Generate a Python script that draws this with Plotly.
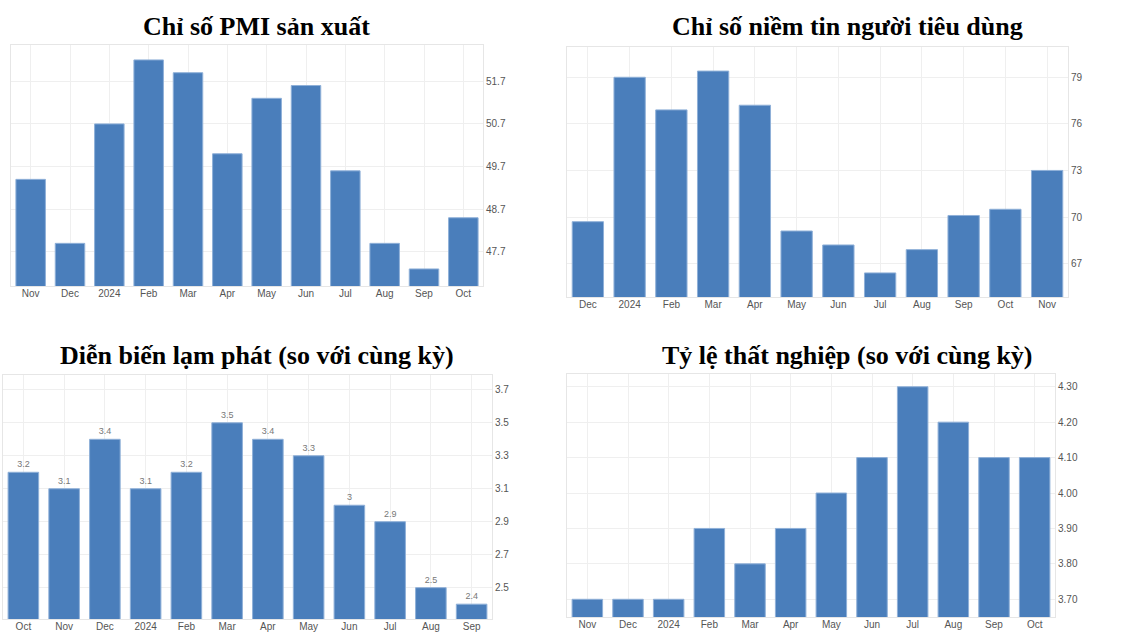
import plotly.graph_objects as go

# ---- data ----
pmi_months = ["Nov", "Dec", "2024", "Feb", "Mar", "Apr", "May", "Jun", "Jul", "Aug", "Sep", "Oct"]
pmi_values = [49.4, 47.9, 50.7, 52.2, 51.9, 50.0, 51.3, 51.6, 49.6, 47.9, 47.3, 48.5]
pmi_ticks = [47.7, 48.7, 49.7, 50.7, 51.7]

cc_months = ["Dec", "2024", "Feb", "Mar", "Apr", "May", "Jun", "Jul", "Aug", "Sep", "Oct", "Nov"]
cc_values = [69.7, 79.0, 76.9, 79.4, 77.2, 69.1, 68.2, 66.4, 67.9, 70.1, 70.5, 73.0]
cc_ticks = [67, 70, 73, 76, 79]

cpi_months = ["Oct", "Nov", "Dec", "2024", "Feb", "Mar", "Apr", "May", "Jun", "Jul", "Aug", "Sep"]
cpi_values = [3.2, 3.1, 3.4, 3.1, 3.2, 3.5, 3.4, 3.3, 3.0, 2.9, 2.5, 2.4]
cpi_ticks = [2.5, 2.7, 2.9, 3.1, 3.3, 3.5, 3.7]

unemp_months = ["Nov", "Dec", "2024", "Feb", "Mar", "Apr", "May", "Jun", "Jul", "Aug", "Sep", "Oct"]
unemp_values = [3.7, 3.7, 3.7, 3.9, 3.8, 3.9, 4.0, 4.1, 4.3, 4.2, 4.1, 4.1]
unemp_ticks = [3.7, 3.8, 3.9, 4.0, 4.1, 4.2, 4.3]

titles = ["Chỉ số PMI sản xuất", "Chỉ số niềm tin người tiêu dùng",
          "Diễn biến lạm phát (so với cùng kỳ)", "Tỷ lệ thất nghiệp (so với cùng kỳ)"]

W, H = 1125, 633
BAR = "#4a7ebb"
EDGE = "#8fb0d8"
GRID = "#efefef"
TICKFONT = dict(family="Liberation Sans, Arial", size=10, color="#555555")

def px_dom(a, b, total):
    return [a / total, b / total]

def py_dom(top, bottom):
    return [1 - bottom / H, 1 - top / H]

panels = [
    dict(months=pmi_months, vals=pmi_values, ticks=pmi_ticks, fmt=".1f",
         x=(11, 483), y=(45, 286), rng=[46.9, 52.55], text=False),
    dict(months=cc_months, vals=cc_values, ticks=cc_ticks, fmt="d",
         x=(567, 1068), y=(47, 297), rng=[64.85, 80.95], text=False),
    dict(months=cpi_months, vals=cpi_values, ticks=cpi_ticks, fmt=".1f",
         x=(3, 492), y=(375, 619), rng=[2.31, 3.79], text=True),
    dict(months=unemp_months, vals=unemp_values, ticks=unemp_ticks, fmt=".2f",
         x=(567, 1055), y=(374, 617), rng=[3.65, 4.336], text=False),
]

fig = go.Figure()
layout = dict(
    width=W, height=H, margin=dict(l=0, r=0, t=0, b=0),
    paper_bgcolor="white", plot_bgcolor="white", showlegend=False,
    bargap=0.25, annotations=[], shapes=[],
)

for i, p in enumerate(panels):
    n = i + 1
    xa = "x" if n == 1 else f"x{n}"
    ya = "y" if n == 1 else f"y{n}"
    tr = dict(
        x=p["months"], y=p["vals"], xaxis=xa, yaxis=ya,
        marker=dict(color=BAR, line=dict(color=EDGE, width=1)),
        hoverinfo="x+y",
    )
    if p["text"]:
        tr.update(text=[f"{v:g}" for v in p["vals"]], textposition="outside",
                  textfont=dict(family="Liberation Sans, Arial", size=9, color="#777777"),
                  cliponaxis=False)
    fig.add_trace(go.Bar(**tr))
    xkey = "xaxis" if n == 1 else f"xaxis{n}"
    ykey = "yaxis" if n == 1 else f"yaxis{n}"
    layout[xkey] = dict(
        domain=px_dom(p["x"][0], p["x"][1], W), anchor=ya, type="category",
        range=[-0.5, 11.5], showgrid=True, gridcolor=GRID, gridwidth=1,
        showline=True, linecolor="#e6e6e6", mirror=True, ticks="",
        tickfont=TICKFONT, fixedrange=True, ticklabelstandoff=-2,
    )
    layout[ykey] = dict(
        domain=py_dom(p["y"][0], p["y"][1]), anchor=xa, side="right",
        range=p["rng"], tickvals=p["ticks"],
        ticktext=[format(t, p["fmt"]) if p["fmt"] != "d" else str(int(t)) for t in p["ticks"]],
        showgrid=True, gridcolor=GRID, gridwidth=1, zeroline=False,
        showline=True, linecolor="#e6e6e6", mirror=True, ticks="",
        tickfont=TICKFONT, fixedrange=True,
    )

title_pos = [(256, 27), (847, 27), (257, 355), (847, 355)]
for t, (cx, cy) in zip(titles, title_pos):
    layout["annotations"].append(dict(
        text=f"<b>{t}</b>", x=cx / W, y=1 - cy / H, xref="paper", yref="paper",
        xanchor="center", yanchor="middle", showarrow=False,
        font=dict(family="Liberation Serif, Times New Roman", size=26, color="black"),
    ))

fig.update_layout(**layout)
fig.write_html("out.html", config={"displayModeBar": False},
               post_script="document.body.style.margin='0';document.body.style.padding='0';")
